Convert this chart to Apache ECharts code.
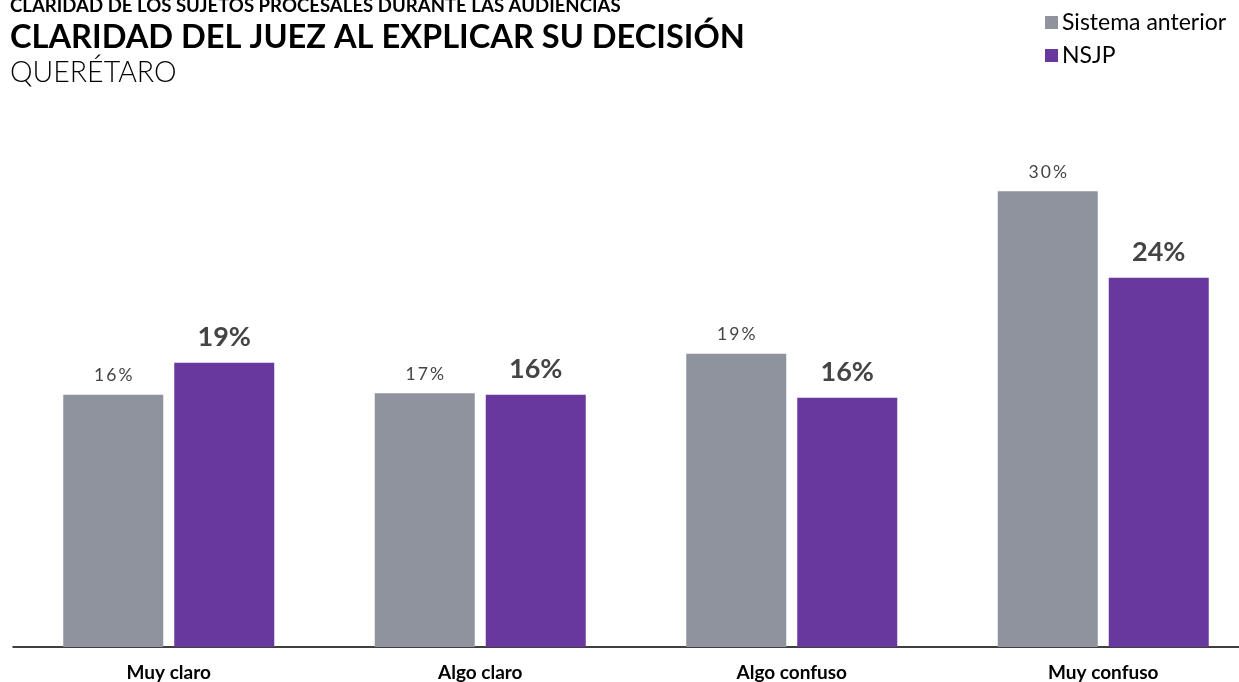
<!DOCTYPE html>
<html><head><meta charset="utf-8">
<script src="https://cdn.jsdelivr.net/npm/echarts@6/dist/echarts.min.js"></script>
<style>html,body{margin:0;padding:0;background:#fff}#c{width:1239px;height:682px}</style>
</head><body><div id="c"></div>
<script>
const categories = ['Muy claro', 'Algo claro', 'Algo confuso', 'Muy confuso'];
const sistemaValues = [16.6, 16.7, 19.3, 30.0];
const nsjpValues = [18.7, 16.6, 16.4, 24.3];
const sistemaLabels = ['16%', '17%', '19%', '30%'];
const nsjpLabels = ['19%', '16%', '16%', '24%'];
const seriesNames = ['Sistema anterior', 'NSJP'];

const chart = echarts.init(document.getElementById('c'));
chart.setOption({
  animation: false,
  textStyle: { fontFamily: 'Lato' },
  title: [
    { text: 'CLARIDAD DE LOS SUJETOS PROCESALES DURANTE LAS AUDIENCIAS', left: 10, top: -4, padding: 0,
      textStyle: { fontFamily: 'Lato', fontWeight: 'bold', fontSize: 18.6, color: '#000' } },
    { text: 'CLARIDAD DEL JUEZ AL EXPLICAR SU DECISIÓN', left: 10, top: 21, padding: 0,
      textStyle: { fontFamily: 'Lato', fontWeight: 'bold', fontSize: 32.6, color: '#000' } },
    { text: 'QUERÉTARO', left: 10, top: 58, padding: 0,
      textStyle: { fontFamily: 'Lato', fontWeight: 300, fontSize: 28.5, color: '#000' } }
  ],
  legend: {
    orient: 'vertical', left: 1040, top: 6, itemWidth: 13, itemHeight: 13, itemGap: 10,
    icon: 'rect',
    textStyle: { fontFamily: 'Lato', fontSize: 23, color: '#000', padding: [0, 0, 0, -1] },
    data: seriesNames
  },
  grid: { left: 13, top: 100, right: -20, height: 547, containLabel: false, outerBoundsMode: 'none' },
  xAxis: {
    type: 'category', data: categories,
    axisLine: { lineStyle: { color: '#000', width: 1.5 } },
    axisTick: { show: false },
    axisLabel: { fontFamily: 'Lato', fontWeight: 'bold', fontSize: 19, color: '#000', margin: 16 }
  },
  yAxis: { type: 'value', min: 0, max: 36, show: false, splitLine: { show: false } },
  series: [
    { name: seriesNames[0], type: 'bar', data: sistemaValues, barWidth: 100, barGap: '11%',
      itemStyle: { color: '#8e939e' },
      label: { show: true, position: 'top', distance: 10, fontFamily: 'Lato', fontSize: 17.5,
        color: '#444', formatter: p => sistemaLabels[p.dataIndex].split('').join('\u2009') } },
    { name: seriesNames[1], type: 'bar', data: nsjpValues, barWidth: 100,
      itemStyle: { color: '#69389e' },
      label: { show: true, position: 'top', distance: 12, fontFamily: 'Lato', fontWeight: 'bold', fontSize: 27,
        color: '#444', formatter: p => nsjpLabels[p.dataIndex] } }
  ]
});
</script></body></html>
